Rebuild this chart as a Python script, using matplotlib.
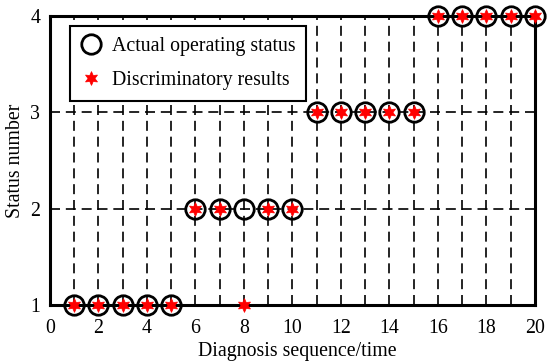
import matplotlib
matplotlib.use("Agg")
import matplotlib.pyplot as plt
from matplotlib.ticker import MultipleLocator

plt.rcParams['font.family'] = ['Liberation Serif', 'DejaVu Serif']
plt.rcParams['font.size'] = 14.3

sequence = [1, 2, 3, 4, 5, 6, 7, 8, 9, 10, 11, 12, 13, 14, 15, 16, 17, 18, 19, 20]
actual_status = [1, 1, 1, 1, 1, 2, 2, 2, 2, 2, 3, 3, 3, 3, 3, 4, 4, 4, 4, 4]
discriminated = [1, 1, 1, 1, 1, 2, 2, 1, 2, 2, 3, 3, 3, 3, 3, 4, 4, 4, 4, 4]
x_ticks = [0, 2, 4, 6, 8, 10, 12, 14, 16, 18, 20]
y_ticks = [1, 2, 3, 4]

fig = plt.figure(figsize=(5.5, 3.64), dpi=100)
ax = fig.add_axes([0.0909, 0.162, 0.8818, 0.794])

ax.set_xlim(0, 20)
ax.set_ylim(1, 4)
ax.set_xticks(x_ticks)
ax.set_yticks(y_ticks)
ax.xaxis.set_minor_locator(MultipleLocator(1))
ax.grid(True, which='both', axis='x', color='k', linestyle=(0, (6, 3.5)), linewidth=1.2)
ax.grid(True, which='major', axis='y', color='k', linestyle=(0, (6, 3.5)), linewidth=1.2)
ax.set_axisbelow(True)
ax.tick_params(which='both', direction='in', length=0, labelsize=14.3)
ax.tick_params(axis='x', pad=10)
ax.tick_params(axis='y', pad=7)
for s in ax.spines.values():
    s.set_linewidth(2.2)
    s.set_zorder(2.5)

ax.plot(sequence, actual_status, linestyle='none', marker='o', markersize=14,
        markerfacecolor='none', markeredgecolor='k', markeredgewidth=2,
        clip_on=False, zorder=4, label='Actual operating status')
ax.plot(sequence, discriminated, linestyle='none', marker=(6, 1, 0), markersize=10,
        color='red', markeredgecolor='red', markeredgewidth=0.5,
        clip_on=False, zorder=5, label='Discriminatory results')

leg = ax.legend(loc='upper left', bbox_to_anchor=(0.041, 0.966), fancybox=False,
                framealpha=1, edgecolor='k', fontsize=14.3, borderpad=0.55,
                handletextpad=0.55, handlelength=1.0, labelspacing=0.75, borderaxespad=0)
leg.get_frame().set_linewidth(1.5)
leg.set_zorder(6)

ax.set_xlabel('Diagnosis sequence/time', fontsize=14.3)
ax.xaxis.set_label_coords(0.51, -0.128)
ax.set_ylabel('Status number', fontsize=14.3)
ax.yaxis.set_label_coords(-0.051, 0.5)

fig.savefig('out.png', dpi=100)
